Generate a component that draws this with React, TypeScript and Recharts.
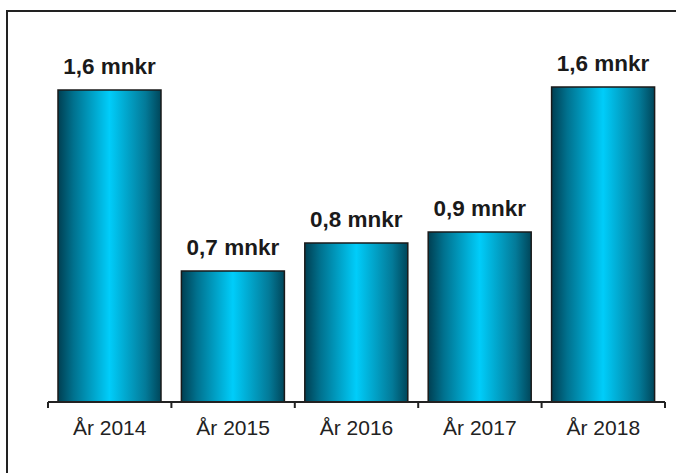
import React from "react";
import { BarChart, Bar, XAxis, YAxis, LabelList } from "recharts";

const categories = ["År 2014", "År 2015", "År 2016", "År 2017", "År 2018"];
const amounts = [1.6, 0.672, 0.815, 0.872, 1.615];
const labels = ["1,6 mnkr", "0,7 mnkr", "0,8 mnkr", "0,9 mnkr", "1,6 mnkr"];

const data = categories.map((c, i) => ({ name: c, value: amounts[i], label: labels[i] }));

const W = 676;
const H = 473;
const M_LEFT = 48;
const M_RIGHT = 11;
const M_TOP = 12;
const X_AXIS_H = 71;
const AXIS_Y = H - X_AXIS_H;
const BAND = (W - M_LEFT - M_RIGHT) / categories.length;
const FONT = "'Liberation Sans', Arial, sans-serif";

const Tick = (props: any) => {
  const { x, payload, index } = props;
  const left = x - BAND / 2;
  const right = x + BAND / 2;
  return (
    <g>
      <line x1={left} y1={AXIS_Y} x2={left} y2={AXIS_Y + 6} stroke="#222" strokeWidth={2} />
      {index === categories.length - 1 && (
        <line x1={right} y1={AXIS_Y} x2={right} y2={AXIS_Y + 6} stroke="#222" strokeWidth={2} />
      )}
      <text x={x} y={AXIS_Y + 33} textAnchor="middle" fontFamily={FONT} fontSize={21} fill="#222">
        {payload.value}
      </text>
    </g>
  );
};

const TopLabel = (props: any) => {
  const { x, y, width, index } = props;
  return (
    <text
      x={Number(x) + Number(width) / 2}
      y={Number(y) - 16}
      textAnchor="middle"
      fontFamily={FONT}
      fontWeight="bold"
      fontSize={22.5}
      fill="#1a1a1a"
    >
      {labels[index]}
    </text>
  );
};

export default function App() {
  return (
    <div style={{ position: "absolute", left: 0, top: 0, width: W, height: H, background: "#fff" }}>
      <div
        style={{
          position: "absolute",
          left: 6,
          top: 10,
          width: W,
          height: H,
          borderLeft: "2px solid #222",
          borderTop: "2px solid #222",
          boxSizing: "border-box",
        }}
      />
      <div style={{ position: "absolute", left: 0, top: 0 }}>
        <BarChart
          width={W}
          height={H}
          data={data}
          margin={{ top: M_TOP, right: M_RIGHT, bottom: 0, left: M_LEFT }}
          barCategoryGap={10}
        >
          <defs>
            <linearGradient id="barGrad" x1="0" y1="0" x2="1" y2="0">
              <stop offset="0%" stopColor="#003f52" />
              <stop offset="15%" stopColor="#00718e" />
              <stop offset="50%" stopColor="#00cdfa" />
              <stop offset="85%" stopColor="#037a98" />
              <stop offset="100%" stopColor="#00465a" />
            </linearGradient>
          </defs>
          <XAxis
            dataKey="name"
            height={X_AXIS_H}
            interval={0}
            axisLine={{ stroke: "#222", strokeWidth: 2 }}
            tickLine={false}
            tick={<Tick />}
          />
          <YAxis hide domain={[0, 2]} />
          <Bar dataKey="value" fill="url(#barGrad)" stroke="#1a1a1a" strokeWidth={1.5} isAnimationActive={false}>
            <LabelList dataKey="label" content={<TopLabel />} />
          </Bar>
        </BarChart>
      </div>
    </div>
  );
}
